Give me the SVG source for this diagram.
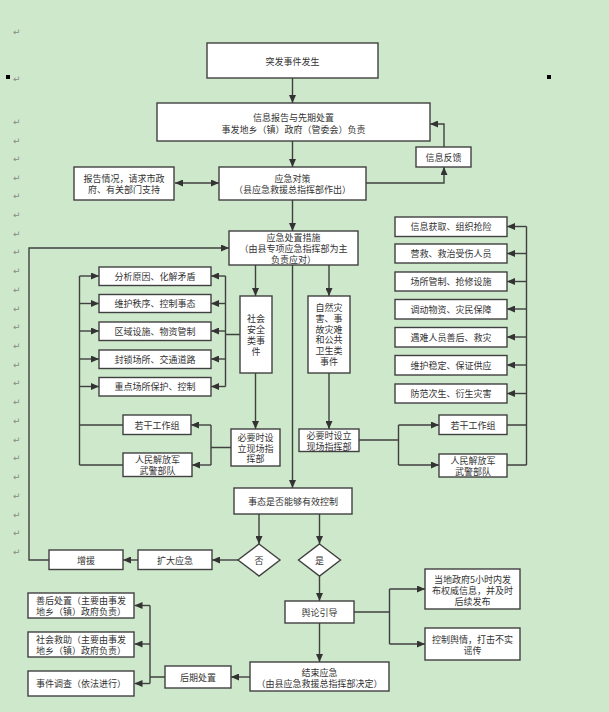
<svg xmlns="http://www.w3.org/2000/svg" width="609" height="712" viewBox="0 0 609 712">
<defs>
<marker id="a" markerWidth="8" markerHeight="7" refX="8" refY="3.5" orient="auto-start-reverse" markerUnits="userSpaceOnUse"><path d="M0,0 L8,3.5 L0,7z" fill="#333"/></marker>
<style>
.b{fill:#fff;stroke:#404040;stroke-width:1.4}
.t{font-family:"Noto Sans CJK SC","Noto Sans",sans-serif;font-size:9px;fill:#333;text-anchor:middle;dominant-baseline:central}
.c path{fill:none;stroke:#404040;stroke-width:1.4}
.c path.r{marker-end:url(#a)}
.p{font-family:"DejaVu Sans",sans-serif;font-size:9px;fill:#8a8a8a}
</style>
</defs>
<rect width="609" height="712" fill="#cde8ca"/>
<g id="marks">
<rect x="6" y="75" width="4" height="4" fill="#000"/>
<rect x="547" y="75" width="4" height="4" fill="#000"/>
<text class="p" x="13" y="35">↵</text><text class="p" x="13" y="82">↵</text><text class="p" x="13" y="125">↵</text><text class="p" x="13" y="144">↵</text><text class="p" x="13" y="162">↵</text><text class="p" x="13" y="181">↵</text><text class="p" x="13" y="199">↵</text><text class="p" x="13" y="218">↵</text><text class="p" x="13" y="237">↵</text><text class="p" x="13" y="255">↵</text><text class="p" x="13" y="274">↵</text><text class="p" x="13" y="293">↵</text><text class="p" x="13" y="312">↵</text><text class="p" x="13" y="330">↵</text><text class="p" x="13" y="349">↵</text><text class="p" x="13" y="368">↵</text><text class="p" x="13" y="386">↵</text><text class="p" x="13" y="405">↵</text><text class="p" x="13" y="424">↵</text><text class="p" x="13" y="443">↵</text><text class="p" x="13" y="461">↵</text><text class="p" x="13" y="480">↵</text><text class="p" x="13" y="499">↵</text><text class="p" x="13" y="518">↵</text><text class="p" x="13" y="536">↵</text><text class="p" x="13" y="555">↵</text>
</g>
<g class="c" id="connectors">
<path class="r" d="M292.5,78V103"/>
<path class="r" d="M292.5,141V167"/>
<path class="r" d="M175,183H219" style="marker-start:url(#a)"/>
<path class="r" d="M366,183H444V167"/>
<path class="r" d="M444,147V124H430"/>
<path class="r" d="M292.5,200V231"/>
<path class="r" d="M49,560H29V248H229"/>
<path class="r" d="M255.5,265V296"/>
<path class="r" d="M329,265V296"/>
<path class="r" d="M292.5,265V488"/>
<path d="M240,334.5H225.5M225.5,276V386.5"/>
<path class="r" d="M225.5,276H211"/><path class="r" d="M225.5,303.5H211"/><path class="r" d="M225.5,331H211"/><path class="r" d="M225.5,359H211"/><path class="r" d="M225.5,386.5H211"/>
<path d="M79.5,276V465M123,425H79.5M123,465H79.5"/>
<path class="r" d="M79.5,276H99"/><path class="r" d="M79.5,303.5H99"/><path class="r" d="M79.5,331H99"/><path class="r" d="M79.5,359H99"/><path class="r" d="M79.5,386.5H99"/>
<path class="r" d="M255.5,373V429"/>
<path d="M231,447.5H211M211,425V465"/>
<path class="r" d="M211,425H191"/><path class="r" d="M211,465H192"/>
<path class="r" d="M329,373V429"/>
<path d="M359,440H398.5M398.5,425V465"/>
<path class="r" d="M398.5,425H439"/><path class="r" d="M398.5,465H439"/>
<path d="M526.5,226.5V465M507,425H526.5M507,465H526.5"/>
<path class="r" d="M526.5,226.5H507"/><path class="r" d="M526.5,253.5H507"/><path class="r" d="M526.5,281.5H507"/><path class="r" d="M526.5,309H507"/><path class="r" d="M526.5,337H507"/><path class="r" d="M526.5,365H507"/><path class="r" d="M526.5,393.5H507"/>
<path class="r" d="M259,514V544"/>
<path class="r" d="M319.5,514V544"/>
<path class="r" d="M238,560H212"/>
<path class="r" d="M138,560H123"/>
<path class="r" d="M319.5,576V601"/>
<path d="M354,612H389.5M389.5,589V644"/>
<path class="r" d="M389.5,589H425"/><path class="r" d="M389.5,644H425"/>
<path class="r" d="M319.5,623V662"/>
<path class="r" d="M250,677H231"/>
<path d="M165,677H150M150,605.5V683.5"/>
<path class="r" d="M150,605.5H134.5"/><path class="r" d="M150,644H134.5"/><path class="r" d="M150,683.5H134.5"/>
</g>
<g id="n1"><rect class="b" x="207" y="43" width="171" height="35"/><text class="t" x="292.5" y="61">突发事件发生</text></g>
<g id="n2"><rect class="b" x="157" y="103" width="273" height="38"/><text class="t" x="293.5" y="117.5">信息报告与先期处置</text><text class="t" x="293.5" y="129">事发地乡（镇）政府（管委会）负责</text></g>
<g id="n3"><rect class="b" x="219" y="167" width="147" height="33"/><text class="t" x="292.5" y="178">应急对策</text><text class="t" x="292.5" y="189.5">（县应急救援总指挥部作出）</text></g>
<g id="n4"><rect class="b" x="74" y="167" width="100" height="33"/><text class="t" x="124" y="178">报告情况，请求市政</text><text class="t" x="124" y="189.5">府、有关部门支持</text></g>
<g id="n5"><rect class="b" x="416" y="147" width="55" height="20"/><text class="t" x="443.5" y="157">信息反馈</text></g>
<g id="n6"><rect class="b" x="229" y="231" width="129" height="34"/><text class="t" x="293.5" y="237">应急处置措施</text><text class="t" x="293.5" y="248">（由县专项应急指挥部为主</text><text class="t" x="293.5" y="259">负责应对）</text></g>
<g id="l1"><rect class="b" x="99" y="267" width="112" height="18.5"/><text class="t" x="155" y="276">分析原因、化解矛盾</text></g>
<g id="l2"><rect class="b" x="99" y="294.5" width="112" height="18"/><text class="t" x="155" y="303.5">维护秩序、控制事态</text></g>
<g id="l3"><rect class="b" x="99" y="322" width="112" height="18.5"/><text class="t" x="155" y="331">区域设施、物资管制</text></g>
<g id="l4"><rect class="b" x="99" y="350" width="112" height="18.5"/><text class="t" x="155" y="359">封锁场所、交通道路</text></g>
<g id="l5"><rect class="b" x="99" y="377.5" width="112" height="18.5"/><text class="t" x="155" y="386.5">重点场所保护、控制</text></g>
<g id="n7"><rect class="b" x="240" y="296" width="32" height="77"/><text class="t" x="256" y="318">社会</text><text class="t" x="256" y="329">安全</text><text class="t" x="256" y="340">类事</text><text class="t" x="256" y="351">件</text></g>
<g id="n8"><rect class="b" x="231" y="429" width="49" height="37"/><text class="t" x="255.5" y="437.5">必要时设</text><text class="t" x="255.5" y="448">立现场指</text><text class="t" x="255.5" y="458.5">挥部</text></g>
<g id="n9"><rect class="b" x="123" y="415" width="68" height="19.5"/><text class="t" x="157" y="425">若干工作组</text></g>
<g id="n10"><rect class="b" x="123" y="453" width="69" height="23.5"/><text class="t" x="157.5" y="459.5">人民解放军</text><text class="t" x="157.5" y="470.5">武警部队</text></g>
<g id="n11"><rect class="b" x="308" y="296" width="42" height="77"/><text class="t" x="329" y="307.5">自然灾</text><text class="t" x="329" y="318.5">害、事</text><text class="t" x="329" y="329">故灾难</text><text class="t" x="329" y="339.5">和公共</text><text class="t" x="329" y="350.5">卫生类</text><text class="t" x="329" y="361.5">事件</text></g>
<g id="n12"><rect class="b" x="299" y="429" width="60" height="22.5"/><text class="t" x="329" y="435">必要时设立</text><text class="t" x="329" y="446">现场指挥部</text></g>
<g id="n13"><rect class="b" x="439" y="415" width="68" height="19.5"/><text class="t" x="473" y="425">若干工作组</text></g>
<g id="n14"><rect class="b" x="439" y="454" width="68" height="23"/><text class="t" x="473" y="460">人民解放军</text><text class="t" x="473" y="471">武警部队</text></g>
<g id="r1"><rect class="b" x="395" y="217" width="112" height="19.5"/><text class="t" x="451" y="226.5">信息获取、组织抢险</text></g>
<g id="r2"><rect class="b" x="395" y="244" width="112" height="19"/><text class="t" x="451" y="253.5">营救、救治受伤人员</text></g>
<g id="r3"><rect class="b" x="395" y="272" width="112" height="19"/><text class="t" x="451" y="281.5">场所管制、抢修设施</text></g>
<g id="r4"><rect class="b" x="395" y="299.5" width="112" height="19.5"/><text class="t" x="451" y="309">调动物资、灾民保障</text></g>
<g id="r5"><rect class="b" x="395" y="327.5" width="112" height="19.5"/><text class="t" x="451" y="337">遇难人员善后、救灾</text></g>
<g id="r6"><rect class="b" x="395" y="355.5" width="112" height="19.5"/><text class="t" x="451" y="365">维护稳定、保证供应</text></g>
<g id="r7"><rect class="b" x="395" y="384" width="112" height="19"/><text class="t" x="451" y="393.5">防范次生、衍生灾害</text></g>
<g id="n15"><rect class="b" x="234" y="488" width="118" height="26"/><text class="t" x="293" y="501">事态是否能够有效控制</text></g>
<g id="n16"><path class="b" d="M259,544L280,560L259,576L238,560z"/><text class="t" x="259" y="560">否</text></g>
<g id="n17"><path class="b" d="M319.5,544L340.5,560L319.5,576L298.5,560z"/><text class="t" x="319.5" y="560">是</text></g>
<g id="n18"><rect class="b" x="138" y="550" width="74" height="19.5"/><text class="t" x="175" y="560">扩大应急</text></g>
<g id="n19"><rect class="b" x="49" y="550" width="74" height="19.5"/><text class="t" x="86" y="560">增援</text></g>
<g id="n20"><rect class="b" x="285" y="601" width="69" height="22"/><text class="t" x="319.5" y="612">舆论引导</text></g>
<g id="n21"><rect class="b" x="425" y="569" width="95" height="40"/><text class="t" x="472.5" y="579">当地政府5小时内发</text><text class="t" x="472.5" y="590">布权威信息，并及时</text><text class="t" x="472.5" y="601">后续发布</text></g>
<g id="n22"><rect class="b" x="425" y="628" width="95" height="32"/><text class="t" x="472.5" y="639.5">控制舆情，打击不实</text><text class="t" x="472.5" y="650.5">谣传</text></g>
<g id="n23"><rect class="b" x="250" y="662" width="139" height="29"/><text class="t" x="319.5" y="672">结束应急</text><text class="t" x="319.5" y="683">（由县应急救援总指挥部决定）</text></g>
<g id="n24"><rect class="b" x="165" y="666" width="66" height="22"/><text class="t" x="198" y="677">后期处置</text></g>
<g id="n25"><rect class="b" x="28" y="593" width="106" height="25"/><text class="t" x="81" y="600">善后处置（主要由事发</text><text class="t" x="81" y="611.5">地乡（镇）政府负责）</text></g>
<g id="n26"><rect class="b" x="28" y="632" width="106" height="25"/><text class="t" x="81" y="639.5">社会救助（主要由事发</text><text class="t" x="81" y="650.5">地乡（镇）政府负责）</text></g>
<g id="n27"><rect class="b" x="28" y="671" width="106" height="25"/><text class="t" x="81" y="683.5">事件调查（依法进行）</text></g>
</svg>
